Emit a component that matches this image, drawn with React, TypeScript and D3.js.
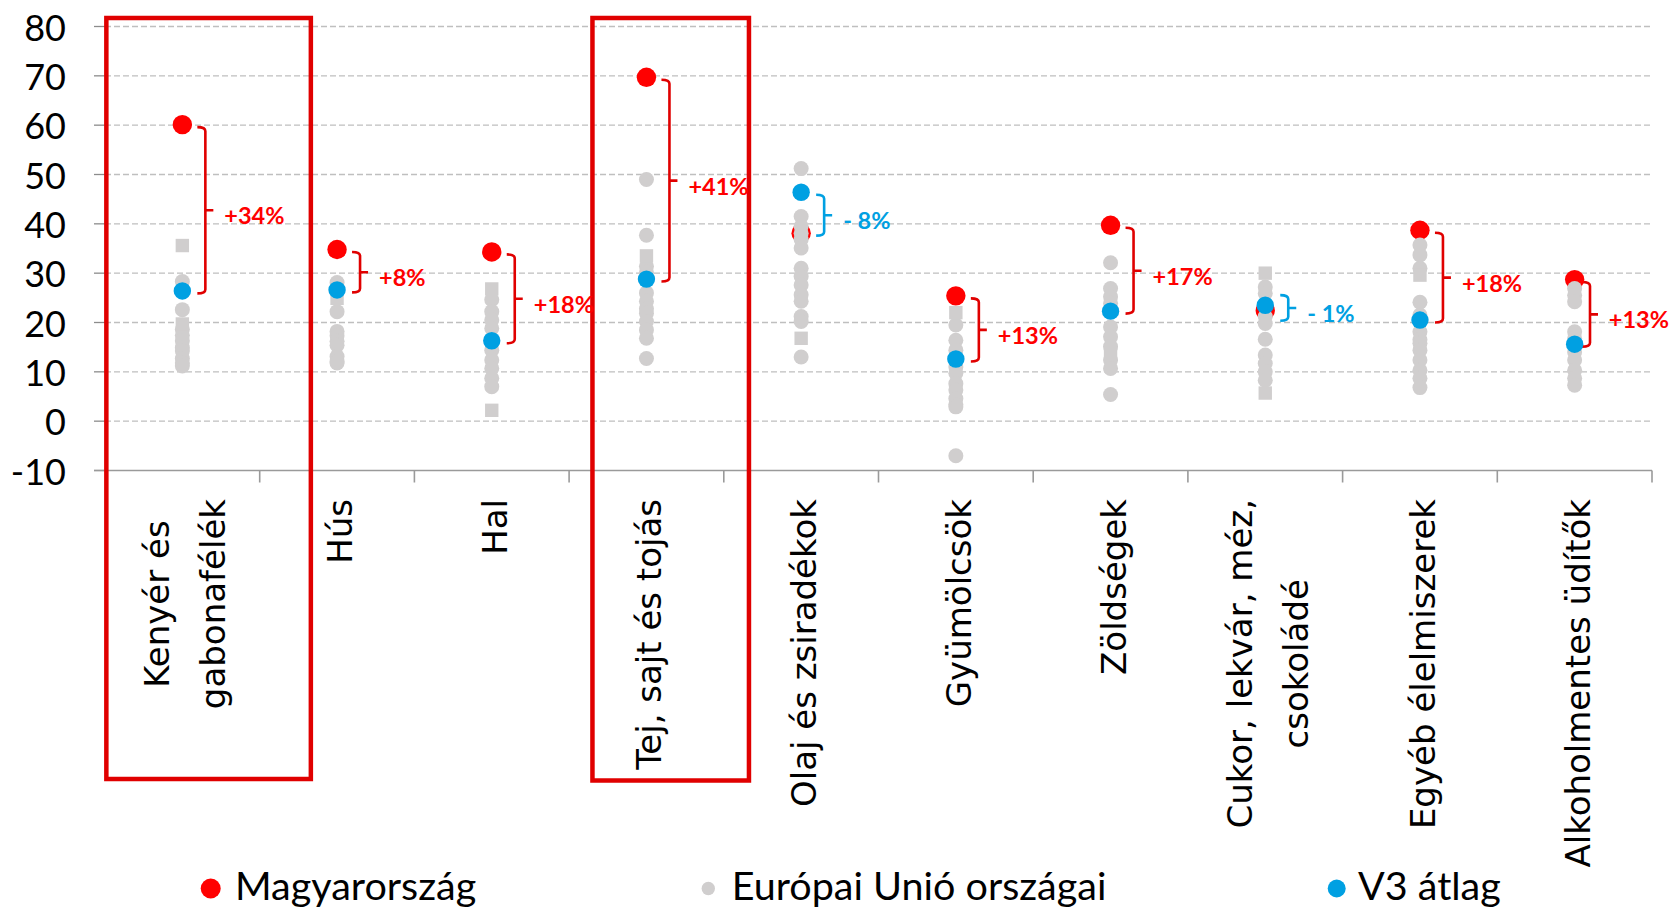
import { useEffect, useRef } from 'react'
import * as d3 from 'd3'

// Kategóriák (\n = sortörés a tengelyfeliratban)
const categories = [
  'Kenyér és\ngabonafélék',
  'Hús',
  'Hal',
  'Tej, sajt és tojás',
  'Olaj és zsiradékok',
  'Gyümölcsök',
  'Zöldségek',
  'Cukor, lekvár, méz,\ncsokoládé',
  'Egyéb élelmiszerek',
  'Alkoholmentes üdítők',
]

const hungary = [60.1, 34.8, 34.3, 69.7, 38.1, 25.4, 39.7, 22.4, 38.7, 28.7]
const v3Average = [26.4, 26.6, 16.3, 28.8, 46.4, 12.6, 22.3, 23.5, 20.5, 15.6]

// EU countries, round markers
const euCircles = [
  [28.3, 22.6, 18.6, 17.4, 16.3, 14.9, 14.2, 12.7, 11.8, 11.2],
  [28.1, 22.2, 18.2, 17.3, 16.2, 15.4, 13.1, 12.1, 11.8],
  [24.6, 22.2, 20.5, 18.8, 14.4, 12.4, 10.7, 8.7, 7.0],
  [49.0, 37.7, 31.4, 30.2, 26.0, 24.3, 22.8, 21.9, 20.2, 18.5, 16.8, 12.7],
  [51.2, 41.5, 39.5, 38.1, 36.8, 35.1, 31.0, 29.3, 27.6, 25.6, 24.3, 21.2, 20.2, 13.0],
  [19.5, 16.4, 14.4, 11.0, 9.7, 7.6, 6.3, 4.6, 3.4, 2.9, -7.0],
  [32.1, 26.9, 25.2, 23.9, 19.1, 17.1, 15.1, 12.4, 10.7, 5.4],
  [27.2, 25.9, 21.2, 19.8, 16.6, 13.4, 11.7, 10.0, 8.3],
  [35.7, 33.7, 31.0, 24.1, 21.5, 18.1, 16.5, 15.8, 14.4, 12.4, 10.3, 8.7, 6.8],
  [26.9, 25.5, 24.2, 18.1, 16.8, 14.0, 12.4, 10.3, 8.7, 7.3],
]

// EU countries, square markers
const euSquares = [
  [35.6, 19.7],
  [24.9],
  [26.8, 2.2],
  [33.5],
  [16.8],
  [22.0],
  [13.5],
  [30.0, 5.7],
  [29.6],
  [],
]

const gapLabels = ['+34%', '+8%', '+18%', '+41%', '- 8%', '+13%', '+17%', '- 1%', '+18%', '+13%']

const highlighted = ['Kenyér és\ngabonafélék', 'Tej, sajt és tojás']

const yTicks = [-10, 0, 10, 20, 30, 40, 50, 60, 70, 80]

const legendItems = ['Magyarország', 'Európai Unió országai', 'V3 átlag']

const RED = '#ff0000'
const DARK_RED = '#e00000'
const BLUE = '#00a0e2'
const GRAY = '#d0cece'

export default function App() {
  const svgRef = useRef<SVGSVGElement>(null)

  useEffect(() => {
    if (!svgRef.current) return
    const svg = d3.select(svgRef.current)
    svg.selectAll('*').remove()

    const left = 105
    const right = 1652
    const bottom = 470.5
    const top = 26.5

    const x = d3.scaleBand().domain(categories).range([left, right])
    const y = d3.scaleLinear().domain([-10, 80]).range([bottom, top])
    const cx = (c: string) => (x(c) as number) + x.bandwidth() / 2

    // gridlines
    const grid = svg.append('g')
    yTicks.filter(t => t > -10).forEach(t => {
      grid.append('line')
        .attr('x1', left).attr('x2', right)
        .attr('y1', y(t)).attr('y2', y(t))
        .attr('stroke', '#bfbfbf').attr('stroke-width', 1.3)
        .attr('stroke-dasharray', '6,3')
    })
    yTicks.forEach(t => {
      grid.append('line')
        .attr('x1', 94).attr('x2', left)
        .attr('y1', y(t)).attr('y2', y(t))
        .attr('stroke', '#8c8c8c').attr('stroke-width', 1.3)
    })

    // x axis
    grid.append('line')
      .attr('x1', 94).attr('x2', right)
      .attr('y1', bottom).attr('y2', bottom)
      .attr('stroke', '#9a9a9a').attr('stroke-width', 1.6)
    categories.forEach(c => {
      const xe = (x(c) as number) + x.bandwidth()
      grid.append('line')
        .attr('x1', xe).attr('x2', xe)
        .attr('y1', bottom).attr('y2', bottom + 12)
        .attr('stroke', '#9a9a9a').attr('stroke-width', 1.6)
    })

    // y labels
    svg.append('g').selectAll('text').data(yTicks).join('text')
      .attr('x', 66).attr('y', d => y(d))
      .attr('text-anchor', 'end')
      .attr('dominant-baseline', 'central')
      .style('font-family', 'Lato, sans-serif')
      .style('font-size', '36px')
      .attr('fill', '#000')
      .text(d => String(d))

    // highlight boxes
    const boxPad = [{ l: -76, r: 128.5 }, { l: -54, r: 102.5 }]
    highlighted.forEach((c, i) => {
      const xc = cx(c)
      svg.append('rect')
        .attr('x', xc + boxPad[i].l).attr('y', 18)
        .attr('width', boxPad[i].r - boxPad[i].l)
        .attr('height', 761 + i * 1.5)
        .attr('fill', 'none')
        .attr('stroke', DARK_RED).attr('stroke-width', 4.5)
    })

    // category labels
    const labels = svg.append('g')
    categories.forEach(c => {
      const lines = c.split('\n')
      const g = labels.append('g')
        .attr('transform', `translate(${cx(c) + 3},499) rotate(-90)`)
      const texts = lines.map((ln, i) =>
        g.append('text')
          .attr('text-anchor', 'middle')
          .attr('dominant-baseline', 'central')
          .attr('y', (i - (lines.length - 1) / 2) * 56)
          .style('font-family', '"DejaVu Sans", sans-serif')
          .style('font-size', '34px')
          .attr('fill', '#000')
          .text(ln)
      )
      const maxLen = d3.max(texts, t => (t.node() as SVGTextElement).getComputedTextLength()) || 0
      texts.forEach(t => t.attr('x', -maxLen / 2))
    })

    // brackets + gap labels
    categories.forEach((c, i) => {
      const hu = hungary[i]
      const v3 = v3Average[i]
      let v0 = Math.min(hu, v3) - 0.5
      let v1 = Math.max(hu, v3) - 0.5
      if (v1 - v0 < 5.2) {
        const m = (v0 + v1) / 2 + 0.5
        v0 = m - 2.6
        v1 = m + 2.6
      }
      const neg = gapLabels[i].startsWith('-')
      const stroke = neg ? BLUE : DARK_RED
      const bx = Math.min(cx(c) + 23, 1590)
      const ymid = (y(v0) + y(v1)) / 2
      svg.append('path')
        .attr('d', `M${bx - 8},${y(v1)} Q${bx},${y(v1)} ${bx},${y(v1) + 4} V${y(v0) - 4} Q${bx},${y(v0)} ${bx - 8},${y(v0)} M${bx},${ymid} H${bx + 8}`)
        .attr('fill', 'none')
        .attr('stroke', stroke).attr('stroke-width', 2.6)
      const label = svg.append('text')
        .attr('x', bx + 19).attr('y', ymid + 5)
        .attr('dominant-baseline', 'central')
        .style('font-family', 'Lato, sans-serif')
        .style('font-size', '23.5px')
        .style('font-weight', 700)
        .attr('fill', neg ? BLUE : RED)
        .text(gapLabels[i])
      const len = (label.node() as SVGTextElement).getComputedTextLength()
      label.attr('x', Math.min(bx + 19, 1669 - len))
    })

    // points: Hungary, EU, V3
    const pts = svg.append('g')
    categories.forEach((c, i) => {
      pts.append('circle')
        .attr('cx', cx(c)).attr('cy', y(hungary[i])).attr('r', 9.7)
        .attr('fill', RED)
    })
    categories.forEach((c, i) => {
      euCircles[i].forEach(v => {
        pts.append('circle')
          .attr('cx', cx(c)).attr('cy', y(v)).attr('r', 7.5)
          .attr('fill', GRAY)
      })
      euSquares[i].forEach(v => {
        pts.append('rect')
          .attr('x', cx(c) - 6.7).attr('y', y(v) - 6.7)
          .attr('width', 13.4).attr('height', 13.4)
          .attr('fill', GRAY)
      })
    })
    categories.forEach((c, i) => {
      pts.append('circle')
        .attr('cx', cx(c)).attr('cy', y(v3Average[i])).attr('r', 8.7)
        .attr('fill', BLUE)
    })

    // legend
    const legend = svg.append('g')
    const legendX = [210.7, 708.3, 1336.7]
    const legendR = [10, 6.7, 9]
    const legendC = [RED, GRAY, BLUE]
    const legendGap = [24.3, 23.4, 21.3]
    legendItems.forEach((t, i) => {
      legend.append('circle')
        .attr('cx', legendX[i]).attr('cy', 888.5).attr('r', legendR[i])
        .attr('fill', legendC[i])
      legend.append('text')
        .attr('x', legendX[i] + legendGap[i]).attr('y', 900)
        .style('font-family', 'Lato, sans-serif')
        .style('font-size', '39.5px')
        .attr('fill', '#000')
        .text(t)
    })
  }, [])

  return (
    <svg
      ref={svgRef}
      width={1673}
      height={909}
      style={{ position: 'absolute', left: 0, top: 0, background: '#fff' }}
    />
  )
}
